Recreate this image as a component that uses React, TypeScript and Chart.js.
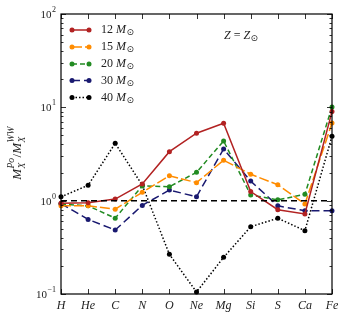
import React, { useEffect, useRef } from "react";
import { Chart, registerables } from "chart.js";

Chart.register(...registerables);

const categories = ["H", "He", "C", "N", "O", "Ne", "Mg", "Si", "S", "Ca", "Fe"];
const m12 = [0.94, 0.95, 1.04, 1.51, 3.35, 5.28, 6.76, 1.25, 0.8, 0.72, 9.0];
const m15 = [0.88, 0.88, 0.81, 1.23, 1.85, 1.56, 2.71, 1.92, 1.48, 0.92, 6.8];
const m20 = [0.92, 0.88, 0.65, 1.44, 1.41, 2.01, 4.36, 1.15, 1.02, 1.17, 10.1];
const m30 = [0.93, 0.63, 0.485, 0.89, 1.3, 1.1, 3.58, 1.62, 0.88, 0.78, 0.78];
const m40 = [1.1, 1.46, 4.12, 1.46, 0.266, 0.105, 0.247, 0.526, 0.648, 0.477, 4.9];
const refLine = [1, 1, 1, 1, 1, 1, 1, 1, 1, 1, 1];
const seriesLabels = ["12", "15", "20", "30", "40"];
const yMajor = [0.1, 1, 10, 100];
const yMajorExp = ["\u22121", "0", "1", "2"];

const SERIF = "'Liberation Serif', 'DejaVu Serif', serif";

const styles = [
  { color: "#b22222", dash: [] as number[] },
  { color: "#ff8c00", dash: [10, 3] },
  { color: "#228b22", dash: [5, 3] },
  { color: "#191970", dash: [8, 4] },
  { color: "#000000", dash: [1.5, 2] },
];

const deco = {
  id: "deco",
  afterDraw(chart: any) {
    const { ctx, chartArea, scales } = chart;
    const { left, right, top, bottom } = chartArea;
    const x = scales.x;
    const y = scales.y;
    ctx.save();
    ctx.strokeStyle = "#000";
    ctx.lineWidth = 1.2;
    ctx.setLineDash([]);
    ctx.strokeRect(left, top, right - left, bottom - top);

    // x ticks (inward, top and bottom)
    ctx.lineWidth = 0.8;
    categories.forEach((_, i) => {
      const px = Math.round(x.getPixelForValue(i)) + 0.5;
      ctx.beginPath();
      ctx.moveTo(px, bottom);
      ctx.lineTo(px, bottom - 5);
      ctx.moveTo(px, top);
      ctx.lineTo(px, top + 5);
      ctx.stroke();
    });
    // y ticks
    for (let e = -1; e <= 2; e++) {
      for (let m = 1; m <= 9; m++) {
        const v = m * Math.pow(10, e);
        if (v > 100.0001) break;
        const py = Math.round(y.getPixelForValue(v)) + 0.5;
        const len = m === 1 ? 5 : 2.5;
        ctx.beginPath();
        ctx.moveTo(left, py);
        ctx.lineTo(left + len, py);
        ctx.moveTo(right, py);
        ctx.lineTo(right - len, py);
        ctx.stroke();
      }
    }
    // y tick labels
    ctx.fillStyle = "#222";
    ctx.textBaseline = "middle";
    yMajor.forEach((v, i) => {
      const py = y.getPixelForValue(v);
      ctx.font = `8px ${SERIF}`;
      const sup = yMajorExp[i];
      const sw = ctx.measureText(sup).width;
      ctx.textAlign = "left";
      const xEnd = left - 5;
      ctx.fillText(sup, xEnd - sw, py - 4);
      ctx.font = `11px ${SERIF}`;
      ctx.textAlign = "right";
      ctx.fillText("10", xEnd - sw - 0.5, py + 1);
    });

    // y axis label (rotated)
    ctx.save();
    ctx.translate(21, (top + bottom) / 2 - 1);
    ctx.rotate(-Math.PI / 2);
    ctx.textAlign = "left";
    ctx.textBaseline = "alphabetic";
    const big = `italic 13px ${SERIF}`;
    const small = `italic 9.5px ${SERIF}`;
    const pieces: Array<{ main?: string; sub?: string; sup?: string }> = [
      { main: "M" },
      { sub: "X", sup: "Po" },
      { main: "/" },
      { main: "M" },
      { sub: "X", sup: "WW" },
    ];
    let total = 0;
    const widths = pieces.map((p) => {
      let w = 0;
      if (p.main) {
        ctx.font = p.main === "/" ? `13px ${SERIF}` : big;
        w = ctx.measureText(p.main).width;
      } else {
        ctx.font = small;
        w = Math.max(ctx.measureText(p.sub || "").width, ctx.measureText(p.sup || "").width) + 1;
      }
      total += w;
      return w;
    });
    let cx = -total / 2;
    pieces.forEach((p, i) => {
      if (p.main) {
        ctx.font = p.main === "/" ? `13px ${SERIF}` : big;
        ctx.fillText(p.main, cx, 0);
      } else {
        ctx.font = small;
        ctx.fillText(p.sub || "", cx + 0.5, 3.5);
        ctx.fillText(p.sup || "", cx + 0.5, -7);
      }
      cx += widths[i];
    });
    ctx.restore();

    // legend
    const legendY = [30, 47, 64, 80.5, 97.5];
    seriesLabels.forEach((lab, i) => {
      const st = styles[i];
      const ly = legendY[i];
      ctx.strokeStyle = st.color;
      ctx.fillStyle = st.color;
      ctx.lineWidth = 1.5;
      ctx.setLineDash(st.dash);
      ctx.beginPath();
      ctx.moveTo(72, ly);
      ctx.lineTo(89, ly);
      ctx.stroke();
      ctx.setLineDash([]);
      [72, 89].forEach((mx) => {
        ctx.beginPath();
        ctx.arc(mx, ly, 2.5, 0, Math.PI * 2);
        ctx.fill();
      });
      ctx.fillStyle = "#222";
      ctx.textBaseline = "middle";
      ctx.textAlign = "left";
      ctx.font = `12px ${SERIF}`;
      let tx = 101;
      ctx.fillText(lab + " ", tx, ly);
      tx += ctx.measureText(lab + " ").width;
      ctx.font = `italic 12px ${SERIF}`;
      ctx.fillText("M", tx, ly);
      tx += ctx.measureText("M").width;
      ctx.font = `9px 'DejaVu Sans', sans-serif`;
      ctx.fillText("\u2299", tx + 0.5, ly + 3);
    });

    // annotation Z = Z_sun
    ctx.fillStyle = "#222";
    ctx.textBaseline = "middle";
    ctx.textAlign = "left";
    let ax = 224;
    const ay = 36;
    ctx.font = `italic 12px ${SERIF}`;
    ctx.fillText("Z", ax, ay);
    ax += ctx.measureText("Z").width;
    ctx.font = `12px ${SERIF}`;
    ctx.fillText(" = ", ax, ay);
    ax += ctx.measureText(" = ").width;
    ctx.font = `italic 12px ${SERIF}`;
    ctx.fillText("Z", ax, ay);
    ax += ctx.measureText("Z").width;
    ctx.font = `9px 'DejaVu Sans', sans-serif`;
    ctx.fillText("\u2299", ax + 0.5, ay + 3);

    ctx.restore();
  },
};

export default function App() {
  const ref = useRef<HTMLCanvasElement | null>(null);
  useEffect(() => {
    if (!ref.current) return;
    const series = [m12, m15, m20, m30, m40];
    const datasets: any[] = series.map((d, i) => ({
      label: seriesLabels[i] + " M\u2299",
      data: d,
      borderColor: styles[i].color,
      backgroundColor: styles[i].color,
      borderDash: styles[i].dash,
      borderWidth: 1.5,
      pointRadius: 2.5,
      pointHoverRadius: 2.5,
      pointBorderWidth: 0,
      tension: 0,
      clip: false,
      order: i + 1,
    }));
    datasets.push({
      label: "ref",
      data: refLine,
      borderColor: "#000",
      borderDash: [6, 4],
      borderWidth: 1.5,
      pointRadius: 0,
      tension: 0,
      order: 0,
    });
    const chart = new Chart(ref.current, {
      type: "line",
      data: { labels: categories, datasets },
      options: {
        animation: false,
        responsive: false,
        maintainAspectRatio: false,
        events: [],
        layout: { padding: { left: 0, right: 17, top: 14, bottom: 0 } },
        plugins: { legend: { display: false }, tooltip: { enabled: false } },
        scales: {
          x: {
            type: "category",
            offset: false,
            grid: { display: false, drawTicks: false },
            border: { display: false },
            ticks: {
              padding: 5,
              color: "#222",
              autoSkip: false,
              maxRotation: 0,
              font: { family: SERIF, style: "italic", size: 12 },
            },
            afterFit: (s: any) => {
              s.height = 26;
            },
          },
          y: {
            type: "logarithmic",
            min: 0.1,
            max: 100,
            grid: { display: false, drawTicks: false },
            border: { display: false },
            ticks: { display: false },
            afterFit: (s: any) => {
              s.width = 61;
            },
          },
        },
      },
      plugins: [deco],
    } as any);
    return () => chart.destroy();
  }, []);
  return (
    <canvas
      ref={ref}
      width={349}
      height={320}
      style={{ position: "absolute", left: 0, top: 0, width: 349, height: 320 }}
    />
  );
}
